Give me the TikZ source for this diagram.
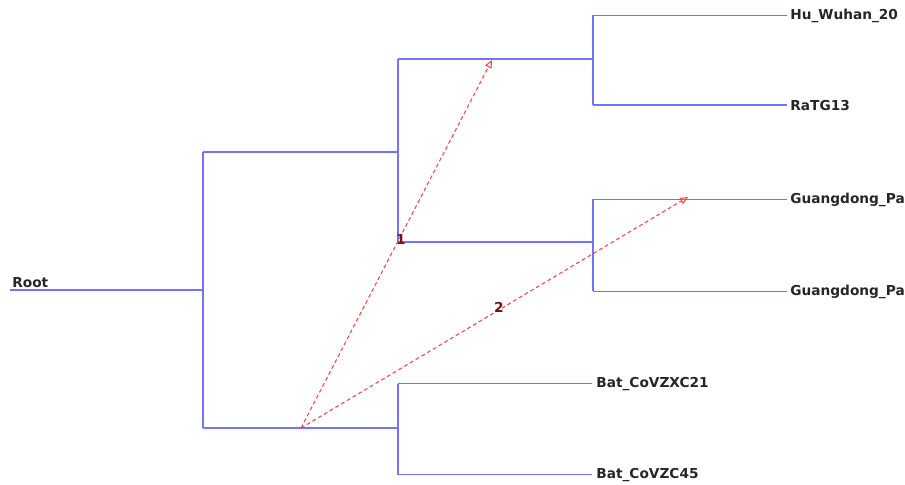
\documentclass[tikz,border=0pt]{standalone}
\usepackage{fontspec}
\setmainfont{DejaVu Sans}
\usetikzlibrary{arrows.meta}
\definecolor{branchblue}{RGB}{115,115,250}
\definecolor{transred}{RGB}{245,70,70}
\definecolor{labelred}{RGB}{110,20,20}
\tikzset{
  branch/.style={draw=branchblue,line width=0.65pt},
  taxon/.style={anchor=base west,inner sep=0pt,text=black!85,font=\fontsize{7.8}{9}\selectfont\bfseries},
  transfer/.style={draw=transred,line width=0.6pt,dash pattern=on 2.2pt off 1.6pt,-{Triangle[open,length=4.5pt,width=4pt]}},
  eventno/.style={inner sep=0pt,text=labelred,font=\fontsize{7.8}{9}\selectfont\bfseries}
}

\begin{document}
\begin{tikzpicture}[x=0.02cm,y=-0.02cm]
  \useasboundingbox (0,0) rectangle (905,484);
  \clip (0,0) rectangle (905,484);

  % internal nodes of the tree
  \coordinate (root) at (10,290);
  \coordinate (n0) at (203,290);
  \coordinate (n1) at (398,152);
  \coordinate (n2) at (593,59);
  \coordinate (n3) at (593,242);
  \coordinate (n4) at (398,428);

  % taxa
  \node[taxon] (hu)   at (790,19)  {Hu\_Wuhan\_20};
  \node[taxon] (ratg) at (790,110) {RaTG13};
  \node[taxon] (gp1)  at (790,203) {Guangdong\_Pa};
  \node[taxon] (gp2)  at (790,295) {Guangdong\_Pa};
  \node[taxon] (zxc)  at (596,387) {Bat\_CoVZXC21};
  \node[taxon] (zc)   at (596,478) {Bat\_CoVZC45};
  \node[taxon] (rootlbl) at (12,287.5) {Root};

  % branches
  \draw[branch] (root) -- (n0);
  \draw[branch] (n0 |- n1) -- (n0 |- n4);
  \draw[branch] (n0 |- n1) -- (n1);
  \draw[branch] (n0 |- n4) -- (n4);
  \draw[branch] (n1 |- n2) -- (n1 |- n3);
  \draw[branch] (n1 |- n2) -- (n2);
  \draw[branch] (n1 |- n3) -- (n3);
  \draw[branch] (n2 |- hu.west) -- (n2 |- ratg.west);
  \draw[branch] (n3 |- gp1.west) -- (n3 |- gp2.west);
  \draw[branch] (n4 |- zxc.west) -- (n4 |- zc.west);
  \draw[branch] (n2 |- hu.west) -- ([xshift=-2]hu.west);
  \draw[branch] (n2 |- ratg.west) -- ([xshift=-2]ratg.west);
  \draw[branch] (n3 |- gp1.west) -- ([xshift=-2]gp1.west);
  \draw[branch] (n3 |- gp2.west) -- ([xshift=-2]gp2.west);
  \draw[branch] (n4 |- zxc.west) -- ([xshift=-2]zxc.west);
  \draw[branch] (n4 |- zc.west) -- ([xshift=-2]zc.west);

  % transfers
  \coordinate (src) at (301,428);
  \coordinate (dst1) at (492,60);
  \coordinate (dst2) at (688,197);
  \draw[transfer] (src) -- (dst1);
  \draw[transfer] (src) -- (dst2);
  \node[eventno] (ev1) at (401,239) {1};
  \node[eventno] (ev2) at (499,307) {2};
\end{tikzpicture}
\end{document}
